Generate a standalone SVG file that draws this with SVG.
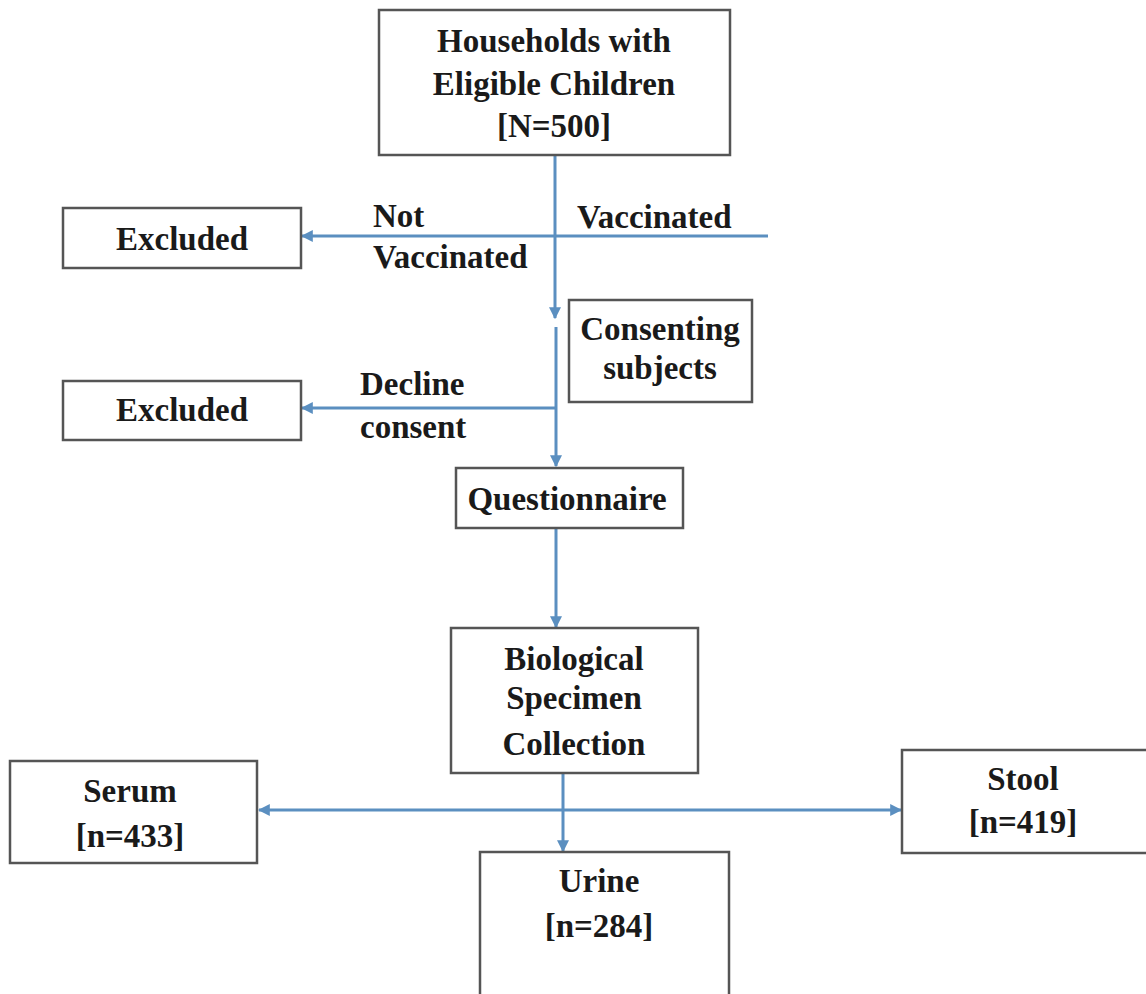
<svg xmlns="http://www.w3.org/2000/svg" width="1146" height="994" viewBox="0 0 1146 994">
<style>
.box{fill:#ffffff;stroke:#555555;stroke-width:2.5}
.t{font-family:"Liberation Serif","Times New Roman",serif;font-weight:bold;font-size:33px;fill:#1a1a1a}
.c{text-anchor:middle}
.ln{fill:none;stroke:#5b8fc0;stroke-width:3}
</style>
<defs>
<marker id="ah" viewBox="0 0 10 10" refX="9" refY="5" markerWidth="4" markerHeight="4" orient="auto" markerUnits="strokeWidth">
<path d="M0,0 L10,5 L0,10 z" fill="#5b8fc0"/>
</marker>
</defs>
<rect width="1146" height="994" fill="#ffffff"/>
<g id="connectors">
<line class="ln" x1="555" y1="155" x2="555" y2="318" marker-end="url(#ah)"/>
<line class="ln" x1="768" y1="236" x2="302" y2="236" marker-end="url(#ah)"/>
<line class="ln" x1="556" y1="327" x2="556" y2="466" marker-end="url(#ah)"/>
<line class="ln" x1="556" y1="408" x2="302" y2="408" marker-end="url(#ah)"/>
<line class="ln" x1="556" y1="528" x2="556" y2="627" marker-end="url(#ah)"/>
<line class="ln" x1="563" y1="773" x2="563" y2="851" marker-end="url(#ah)"/>
<line class="ln" x1="563" y1="810" x2="259" y2="810" marker-end="url(#ah)"/>
<line class="ln" x1="563" y1="810" x2="901" y2="810" marker-end="url(#ah)"/>
</g>
<g id="households">
<rect class="box" x="379" y="10" width="351" height="145"/>
<text class="t c" x="554" y="52">Households with</text>
<text class="t c" x="554" y="95">Eligible Children</text>
<text class="t c" x="554" y="137">[N=500]</text>
</g>
<g id="labels-vacc">
<text class="t" x="373" y="227">Not</text>
<text class="t" x="373" y="268">Vaccinated</text>
<text class="t" x="577" y="228">Vaccinated</text>
</g>
<g id="excluded1">
<rect class="box" x="63" y="208" width="238" height="60"/>
<text class="t c" x="182" y="250">Excluded</text>
</g>
<g id="consenting">
<rect class="box" x="569" y="300" width="183" height="102"/>
<text class="t c" x="660" y="340">Consenting</text>
<text class="t c" x="660" y="379">subjects</text>
</g>
<g id="labels-consent">
<text class="t" x="360" y="395">Decline</text>
<text class="t" x="360" y="438">consent</text>
</g>
<g id="excluded2">
<rect class="box" x="63" y="381" width="238" height="59"/>
<text class="t c" x="182" y="421">Excluded</text>
</g>
<g id="questionnaire">
<rect class="box" x="456" y="468" width="227" height="60"/>
<text class="t c" x="567" y="510">Questionnaire</text>
</g>
<g id="biological">
<rect class="box" x="451" y="628" width="247" height="145"/>
<text class="t c" x="574" y="670">Biological</text>
<text class="t c" x="574" y="709">Specimen</text>
<text class="t c" x="574" y="755">Collection</text>
</g>
<g id="serum">
<rect class="box" x="10" y="761" width="247" height="102"/>
<text class="t c" x="130" y="802">Serum</text>
<text class="t c" x="130" y="847">[n=433]</text>
</g>
<g id="stool">
<rect class="box" x="902" y="750" width="260" height="103"/>
<text class="t c" x="1023" y="790">Stool</text>
<text class="t c" x="1023" y="833">[n=419]</text>
</g>
<g id="urine">
<rect class="box" x="480" y="852" width="249" height="160"/>
<text class="t c" x="599" y="892">Urine</text>
<text class="t c" x="599" y="937">[n=284]</text>
</g>
</svg>
